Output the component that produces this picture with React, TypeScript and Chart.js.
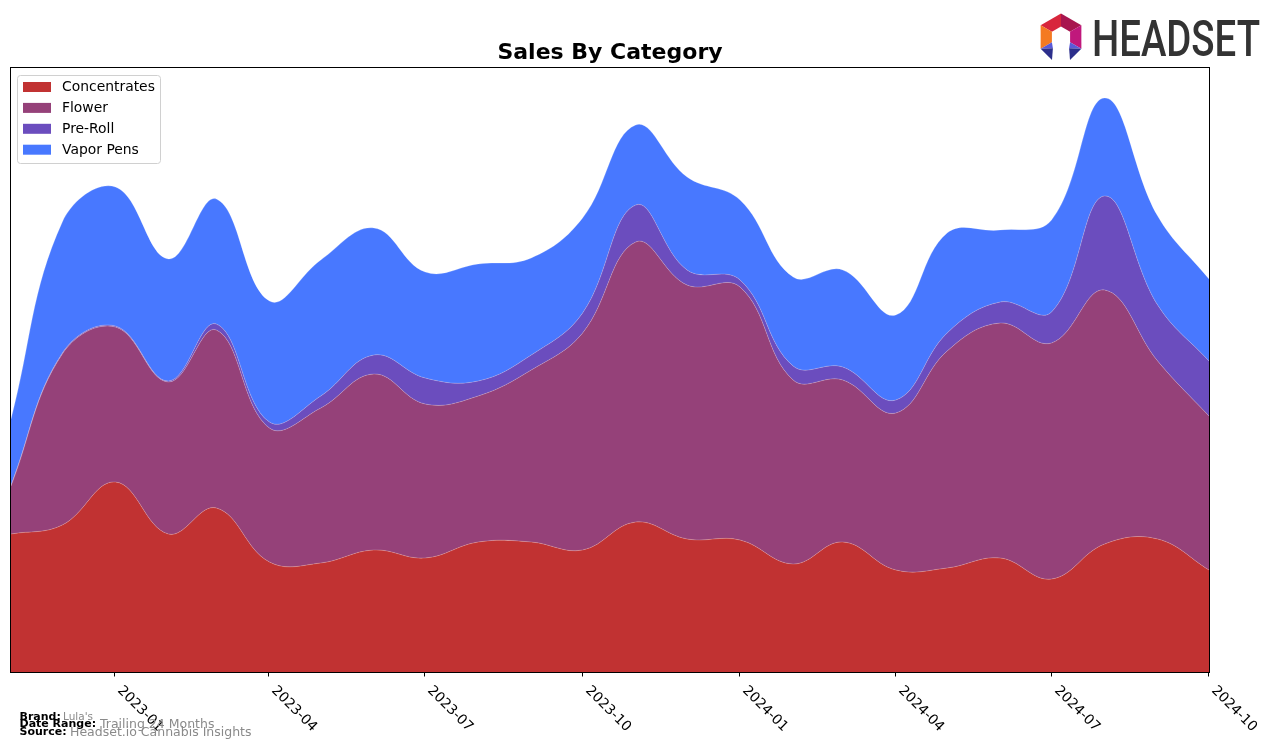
import React, { useEffect, useRef } from 'react';
import { Chart, registerables } from 'chart.js';

Chart.register(...registerables);

// ---- Data ----
const months = [
  '2022-11', '2022-12', '2023-01', '2023-02', '2023-03', '2023-04',
  '2023-05', '2023-06', '2023-07', '2023-08', '2023-09', '2023-10',
  '2023-11', '2023-12', '2024-01', '2024-02', '2024-03', '2024-04',
  '2024-05', '2024-06', '2024-07', '2024-08', '2024-09', '2024-10',
];
const concentrates = [138, 147, 190, 138, 164, 110, 109, 122, 114, 130, 130, 122, 150, 133, 132, 108, 130, 102, 104, 114, 93, 128, 133, 102];
const flower = [48, 171, 155, 152, 178, 134, 155, 176, 154, 146, 172, 217, 280, 254, 253, 184, 162, 157, 217, 235, 236, 254, 178, 154];
const preRoll = [1, 1, 1, 1, 6, 6, 12, 19, 26, 15, 15, 20, 37, 15, 7, 14, 13, 13, 18, 21, 31, 94, 56, 55];
const vaporPens = [66, 131, 139, 122, 125, 121, 136, 127, 106, 117, 97, 95, 80, 93, 80, 89, 97, 85, 100, 72, 92, 98, 89, 82];

const seriesNames = ['Concentrates', 'Flower', 'Pre-Roll', 'Vapor Pens'];
const seriesColors = ['#c13232', '#954179', '#6b4dbe', '#4878ff'];
const tickLabels = ['2023-01', '2023-04', '2023-07', '2023-10', '2024-01', '2024-04', '2024-07', '2024-10'];
const chartTitle = 'Sales By Category';
const footerLabels = ['Brand:', 'Date Range:', 'Source:'];
const footerValues = ["Lula's", 'Trailing 24 Months', 'Headset.io Cannabis Insights'];
const logoText = 'HEADSET';

const Y_MAX = 604;

function dayOffset(ym: string): number {
  const [y, m] = ym.split('-').map(Number);
  const [y0, m0] = months[0].split('-').map(Number);
  return (Date.UTC(y, m - 1, 1) - Date.UTC(y0, m0 - 1, 1)) / 86400000;
}

const FONT = '"DejaVu Sans", sans-serif';

const decorPlugin = {
  id: 'decor',
  afterDraw(chart: any) {
    const { ctx, chartArea: a, scales } = chart;
    const xs = scales.x;
    ctx.save();

    // frame
    ctx.strokeStyle = '#000';
    ctx.lineWidth = 1;
    ctx.strokeRect(a.left - 0.5, a.top - 0.5, a.right - a.left + 1, a.bottom - a.top + 1);

    // x ticks + rotated labels
    ctx.fillStyle = '#000';
    ctx.font = `13.9px ${FONT}`;
    ctx.textAlign = 'left';
    ctx.textBaseline = 'alphabetic';
    tickLabels.forEach((lbl) => {
      const px = Math.round(xs.getPixelForValue(dayOffset(lbl)));
      ctx.beginPath();
      ctx.moveTo(px - 0.5, a.bottom);
      ctx.lineTo(px - 0.5, a.bottom + 4.5);
      ctx.stroke();
      ctx.save();
      ctx.translate(px + 2, a.bottom + 19);
      ctx.rotate(Math.PI / 4);
      ctx.fillText(lbl, 0, 0);
      ctx.restore();
    });

    // title
    ctx.font = `bold 22px ${FONT}`;
    ctx.textAlign = 'center';
    ctx.fillText(chartTitle, (a.left + a.right) / 2, 59);

    // legend
    ctx.textAlign = 'left';
    ctx.beginPath();
    (ctx as any).roundRect(17.5, 75.5, 143, 88, 3);
    ctx.fillStyle = 'rgba(255,255,255,0.85)';
    ctx.fill();
    ctx.strokeStyle = '#d0d0d0';
    ctx.stroke();
    ctx.font = `13.9px ${FONT}`;
    ctx.textBaseline = 'middle';
    seriesNames.forEach((name, i) => {
      const cy = 87 + i * 20.9;
      ctx.fillStyle = seriesColors[i];
      ctx.fillRect(23, cy - 5, 28, 10);
      ctx.fillStyle = '#000';
      ctx.fillText(name, 62, cy + 0.5);
    });

    // footer
    ctx.textBaseline = 'alphabetic';
    const baselines = [719.5, 727, 735];
    const valueX = [63, 100, 70];
    const valueFont = [`10.5px ${FONT}`, `12.5px ${FONT}`, `12.5px ${FONT}`];
    footerLabels.forEach((lab, i) => {
      ctx.font = `bold 11px ${FONT}`;
      ctx.fillStyle = '#000';
      ctx.fillText(lab, 19.5, baselines[i]);
      ctx.font = valueFont[i];
      ctx.fillStyle = '#8a8a8a';
      ctx.fillText(footerValues[i], valueX[i], baselines[i] + (i === 0 ? 0 : 0.5));
    });

    // logo icon
    const cx = 1061, cyc = 37, R = 23.5, r = 10.5;
    const pt = (rad: number, deg: number) => [cx + rad * Math.cos((deg * Math.PI) / 180), cyc + rad * Math.sin((deg * Math.PI) / 180)];
    const poly = (pts: number[][], color: string) => {
      ctx.beginPath();
      ctx.moveTo(pts[0][0], pts[0][1]);
      for (let k = 1; k < pts.length; k++) ctx.lineTo(pts[k][0], pts[k][1]);
      ctx.closePath();
      ctx.fillStyle = color;
      ctx.fill();
    };
    poly([pt(R, 210), pt(R, 270), pt(r, 270), pt(r, 210)], '#d8263c');
    poly([pt(R, 270), pt(R, 330), pt(r, 330), pt(r, 270)], '#a8164f');
    poly([pt(R, 330), pt(R, 30), pt(r, 30), pt(r, 330)], '#c0187c');
    poly([pt(R, 150), pt(R, 210), pt(r, 210), pt(r, 150)], '#f47a22');
    const ll = pt(R, 150), lli = pt(r, 150), lr = pt(R, 30), lri = pt(r, 30);
    poly([ll, lli, [lli[0] + 1, lli[1] + 6]], '#5a5ad8');
    poly([ll, [lli[0] + 1, lli[1] + 6], [cx - 9, 60]], '#2c2f8c');
    poly([lr, lri, [lri[0] - 1, lri[1] + 6]], '#5a5ad8');
    poly([lr, [lri[0] - 1, lri[1] + 6], [cx + 9, 60]], '#2c2f8c');

    // logo text
    ctx.save();
    ctx.font = `500 50px Roboto, ${FONT}`;
    ctx.fillStyle = '#333333';
    ctx.textBaseline = 'alphabetic';
    const w = ctx.measureText(logoText).width;
    ctx.translate(1092, 56);
    ctx.scale(168 / w, 1);
    ctx.fillText(logoText, 0, 0);
    ctx.restore();

    ctx.restore();
  },
};

export default function App() {
  const canvasRef = useRef<HTMLCanvasElement | null>(null);

  useEffect(() => {
    if (!canvasRef.current) return;
    const series = [concentrates, flower, preRoll, vaporPens];
    const chart = new Chart(canvasRef.current, {
      type: 'line',
      data: {
        datasets: series.map((vals, i) => ({
          label: seriesNames[i],
          data: vals.map((v, k) => ({ x: dayOffset(months[k]), y: v })),
          backgroundColor: seriesColors[i],
          borderColor: 'rgba(255,255,255,0.25)',
          borderWidth: 0.8,
          pointRadius: 0,
          tension: 0.4,
          fill: i === 0 ? 'origin' : '-1',
        })),
      },
      options: {
        responsive: false,
        animation: false,
        events: [],
        layout: { padding: { left: 11, right: 67, top: 68, bottom: 77 } },
        scales: {
          x: {
            type: 'linear',
            min: 0,
            max: dayOffset(months[months.length - 1]),
            display: false,
          },
          y: {
            stacked: true,
            min: 0,
            max: Y_MAX,
            display: false,
          },
        },
        plugins: {
          legend: { display: false },
          tooltip: { enabled: false },
          title: { display: false },
        },
      },
      plugins: [decorPlugin],
    });
    return () => chart.destroy();
  }, []);

  return (
    <div style={{ position: 'absolute', left: 0, top: 0, width: 1276, height: 749, background: '#fff' }}>
      <canvas ref={canvasRef} width={1276} height={749} style={{ width: 1276, height: 749, display: 'block' }} />
    </div>
  );
}
